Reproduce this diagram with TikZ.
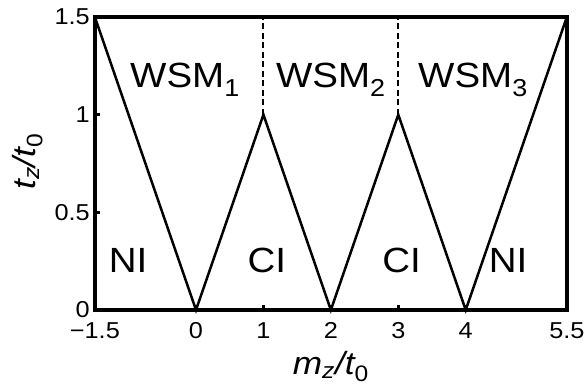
\documentclass[tikz,border=0pt]{standalone}
\usepackage{fontspec}
\setmainfont{Liberation Sans}[FakeStretch=1.1]

\tikzset{
  frame/.style={line width=3.5pt},
  phaseline/.style={line width=2.5pt,line join=miter},
  boundary/.style={line width=2pt,dash pattern=on 6pt off 3.5pt},
  ticklabel/.style={inner sep=0pt,font=\fontsize{23}{25}\selectfont},
  region/.style={anchor=base,inner sep=0pt,font=\fontsize{35}{38}\selectfont},
  axislabel/.style={inner sep=0pt,font=\fontsize{32}{34}\selectfont\itshape}
}

\begin{document}
\begin{tikzpicture}[x=67.4286pt,y=195.333pt]
  \useasboundingbox (-2.9068,-0.3942) rectangle (5.7542,1.5870);

  % corners of the box
  \coordinate (ll) at (-1.5,0);
  \coordinate (ur) at (5.5,1.5);

  % corners of the phase lines
  \coordinate (v1) at (-1.5,1.5);
  \coordinate (v2) at (0,0);
  \coordinate (v3) at (1,1);
  \coordinate (v4) at (2,0);
  \coordinate (v5) at (3,1);
  \coordinate (v6) at (4,0);
  \coordinate (v7) at (5.5,1.5);
  \coordinate (t3) at (1,1.5);
  \coordinate (t5) at (3,1.5);

  \draw[phaseline] (v1) -- (v2) -- (v3) -- (v4) -- (v5) -- (v6) -- (v7);
  \draw[boundary] (v3) -- (t3);
  \draw[boundary] (v5) -- (t5);

  \draw[frame] (ll) rectangle (ur);

  % ticks
  \foreach \x/\lab in {-1.5/{\textminus1.5},0/0,1/1,2/2,3/3,4/4,5.5/5.5} {
    \draw[line width=2.5pt] (\x,0) -- ++(0,0.0256);
    \node[ticklabel,anchor=base] (xt\x) at (\x,-0.148) {\lab};
  }
  \foreach \y in {0,0.5,1,1.5} {
    \draw[line width=2.5pt] (-1.5,\y) -- ++(0.074,0);
    \node[ticklabel,anchor=east] (yt\y) at (-1.572,\y) {\y};
  }

  \node[axislabel,anchor=base] (xlab) at (2,-0.33) {m\textsubscript{z}/t\textsubscript{\upshape 0}};
  \node[axislabel,rotate=90] (ylab) at (-2.50,0.76) {t\textsubscript{z}/t\textsubscript{\upshape 0}};

  \node[region] (wsm1) at (-0.163,1.137) {WSM\textsubscript{1}};
  \node[region] (wsm2) at (2,1.137) {WSM\textsubscript{2}};
  \node[region] (wsm3) at (4.108,1.137) {WSM\textsubscript{3}};

  \node[region] (ni1) at (-1.008,0.19) {NI};
  \node[region] (ci1) at (1.05,0.19) {CI};
  \node[region] (ci2) at (3.05,0.19) {CI};
  \node[region] (ni2) at (4.63,0.19) {NI};

\end{tikzpicture}
\end{document}
